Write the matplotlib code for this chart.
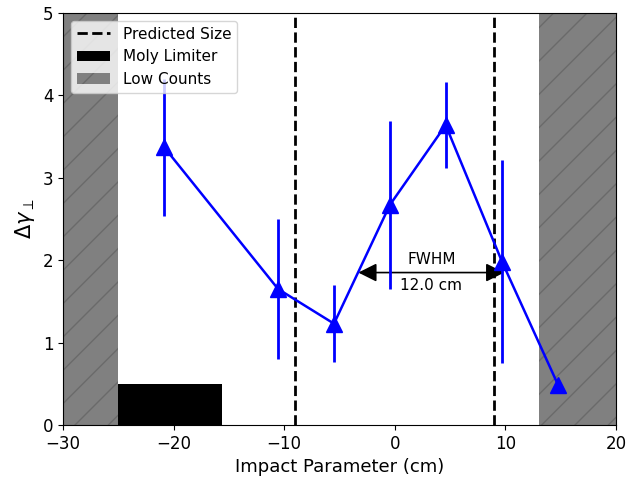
import numpy as np
import matplotlib
matplotlib.use("Agg")
import matplotlib.pyplot as plt
from matplotlib.patches import Patch
from matplotlib.lines import Line2D

# measured transverse heating vs impact parameter
impact = [-20.85, -10.55, -5.5, -0.45, 4.6, 9.7, 14.75]
dgamma = [3.37, 1.65, 1.23, 2.67, 3.64, 1.98, 0.49]
dgamma_err = [0.83, 0.85, 0.47, 1.02, 0.52, 1.23, 0.0]

predicted_edges = [-9.0, 9.0]
low_counts = [(-30, -25), (13, 20)]
moly = (-25, -15.6, 0.5)
fwhm_span = (-3.3, 9.9, 1.85)
fwhm_width = 12.0

fig, ax = plt.subplots(figsize=(6.37, 4.79), dpi=100)
fig.subplots_adjust(left=63/637, right=616/637, top=1-13/479, bottom=1-425/479)

for lo, hi in low_counts:
    ax.axvspan(lo, hi, facecolor="gray", edgecolor="#6a6a6a", hatch="/", linewidth=0)
ax.fill_between([moly[0], moly[1]], 0, moly[2], color="k", linewidth=0)

for xe in predicted_edges:
    ax.axvline(xe, color="k", ls="--", lw=2)

ax.errorbar(impact, dgamma, yerr=dgamma_err, color="b", marker="^", ms=12,
            lw=1.8, elinewidth=2, capsize=0, zorder=5)

ax.annotate("", xy=(fwhm_span[0], fwhm_span[2]), xytext=(fwhm_span[1], fwhm_span[2]),
            arrowprops=dict(arrowstyle="<|-|>", color="k", lw=1.2, mutation_scale=28,
                            shrinkA=0, shrinkB=0))
mid = (fwhm_span[0] + fwhm_span[1]) / 2
ax.text(mid, fwhm_span[2] + 0.07, "FWHM", ha="center", va="bottom", fontsize=11)
ax.text(mid, fwhm_span[2] - 0.07, "%.1f cm" % fwhm_width, ha="center", va="top", fontsize=11)

ax.set_xlim(-30, 20)
ax.set_ylim(0, 5)
ax.set_xlabel("Impact Parameter (cm)", fontsize=13)
ax.set_ylabel(r"$\Delta\gamma_\perp$", fontsize=15)
ax.tick_params(labelsize=12)

handles = [Line2D([], [], color="k", ls="--", lw=2),
           Patch(facecolor="k"),
           Patch(facecolor="gray", edgecolor="#6a6a6a", hatch="/", linewidth=0)]
ax.legend(handles, ["Predicted Size", "Moly Limiter", "Low Counts"],
          loc="upper left", fontsize=11, handlelength=2.2)

fig.savefig("out.png")
